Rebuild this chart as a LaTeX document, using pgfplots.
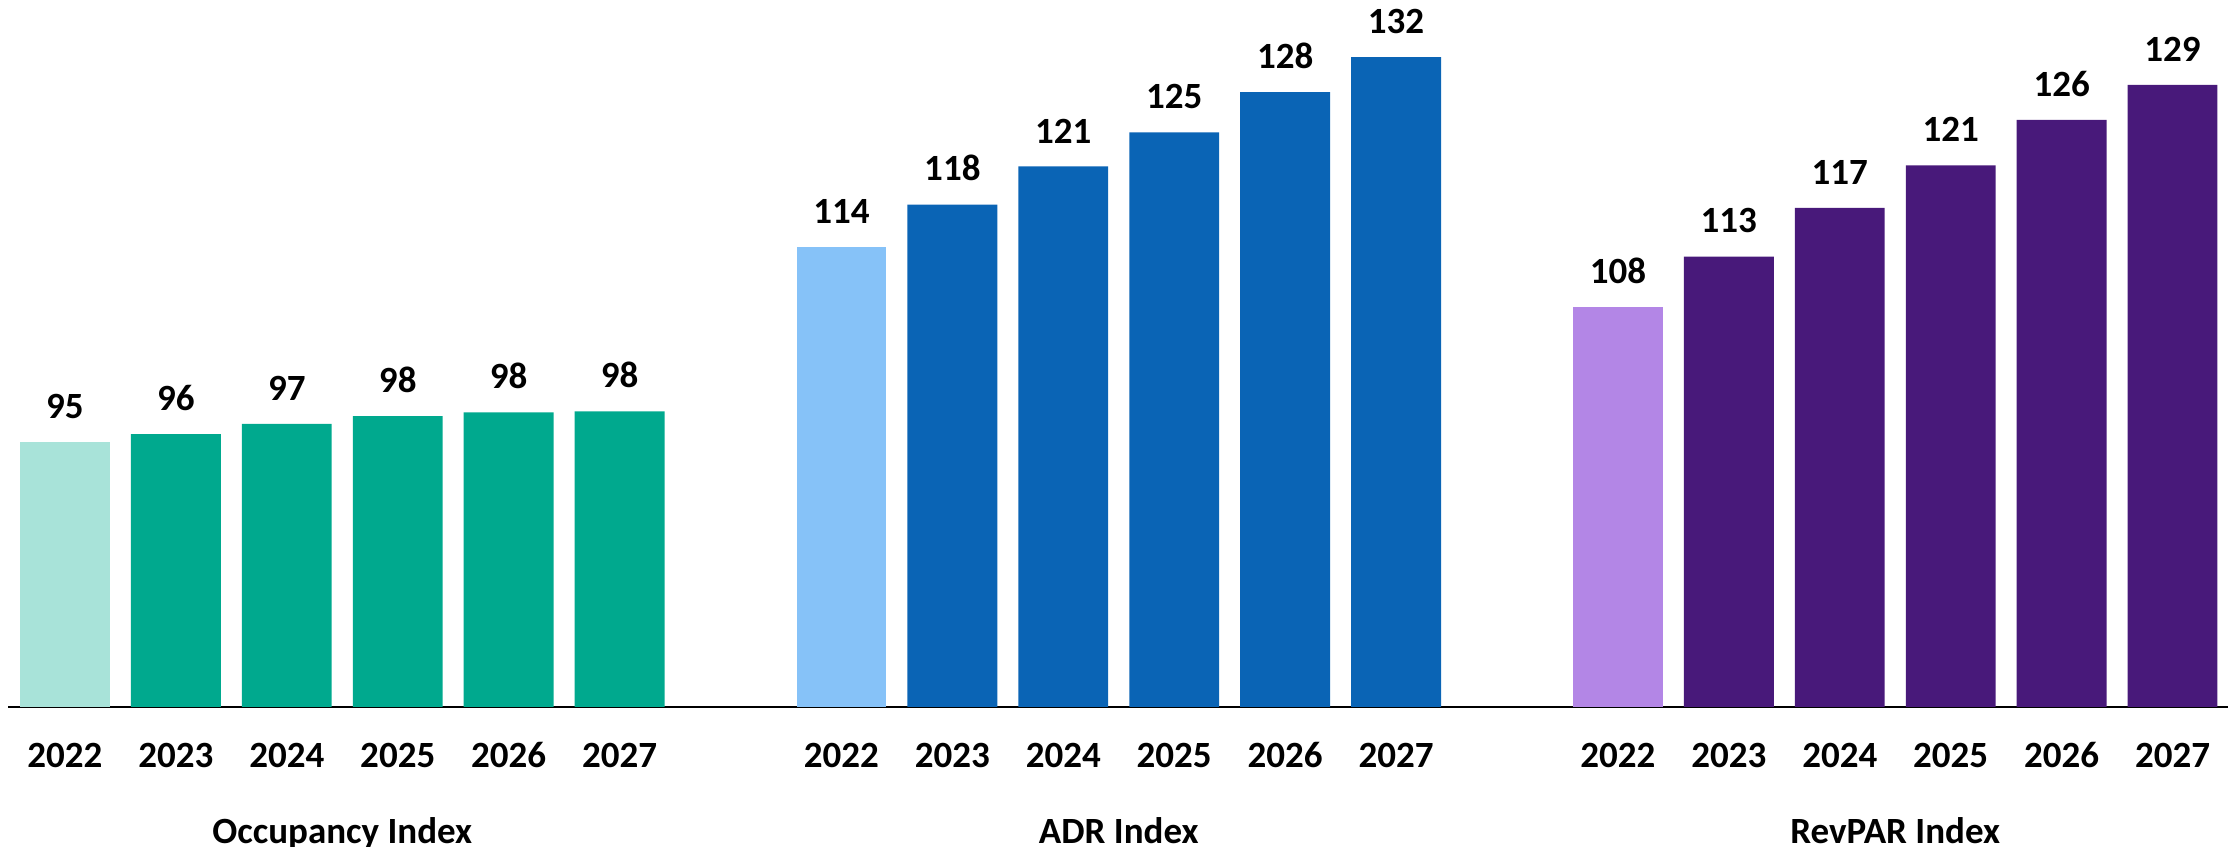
\documentclass[border=0pt]{standalone}
\usepackage{fontspec}
\setmainfont{Carlito}
\usepackage{pgfplots}
\pgfplotsset{compat=1.18}
\definecolor{occL}{HTML}{A8E3D9}
\definecolor{occD}{HTML}{00A98E}
\definecolor{adrL}{HTML}{86C2F8}
\definecolor{adrD}{HTML}{0A64B5}
\definecolor{revL}{HTML}{B386E6}
\definecolor{revD}{HTML}{48197A}
\newcommand{\lbl}{\fontsize{18.5}{21}\selectfont\bfseries}
\begin{document}
\begin{tikzpicture}
\begin{axis}[
  scale only axis,
  width=1109.8pt, height=353.5pt,
  xmin=-0.51, xmax=19.5, ymin=70, ymax=136.7,
  axis x line=bottom,
  hide y axis,
  x axis line style={-, line width=1.2pt, black},
  xtick={0,1,2,3,4,5,7,8,9,10,11,12,14,15,16,17,18,19},
  xticklabels={2022,2023,2024,2025,2026,2027,2022,2023,2024,2025,2026,2027,2022,2023,2024,2025,2026,2027},
  major tick length=0pt,
  xticklabel style={anchor=base, yshift=-30.5pt, inner sep=0pt, font=\lbl},
  bar width=0.81,
  nodes near coords,
  point meta=explicit symbolic,
  every node near coord/.append style={anchor=south, inner sep=0pt, yshift=11.5pt, font=\lbl, text=black},
  clip=false,
]
\addplot[ybar, bar shift=0pt, fill=occL, draw=none] coordinates {(0,95.0) [95]};
\addplot[ybar, bar shift=0pt, fill=occD, draw=none] coordinates {(1,95.75) [96] (2,96.7) [97] (3,97.45) [98] (4,97.8) [98] (5,97.9) [98]};
\addplot[ybar, bar shift=0pt, fill=adrL, draw=none] coordinates {(7,113.4) [114]};
\addplot[ybar, bar shift=0pt, fill=adrD, draw=none] coordinates {(8,117.4) [118] (9,121.0) [121] (10,124.2) [125] (11,128.0) [128] (12,131.3) [132]};
\addplot[ybar, bar shift=0pt, fill=revL, draw=none] coordinates {(14,107.7) [108]};
\addplot[ybar, bar shift=0pt, fill=revD, draw=none] coordinates {(15,112.5) [113] (16,117.1) [117] (17,121.1) [121] (18,125.4) [126] (19,128.7) [129]};
\node[anchor=base, inner sep=0pt, yshift=-68.5pt, font=\lbl] at (axis cs:2.5,70) {Occupancy Index};
\node[anchor=base, inner sep=0pt, yshift=-68.5pt, font=\lbl] at (axis cs:9.5,70) {ADR Index};
\node[anchor=base, inner sep=0pt, yshift=-68.5pt, font=\lbl] at (axis cs:16.5,70) {RevPAR Index};
\end{axis}
\pgfresetboundingbox
\path ([xshift=-4.2pt, yshift=-70pt]current axis.south west) rectangle (current axis.north east);
\end{tikzpicture}
\end{document}
